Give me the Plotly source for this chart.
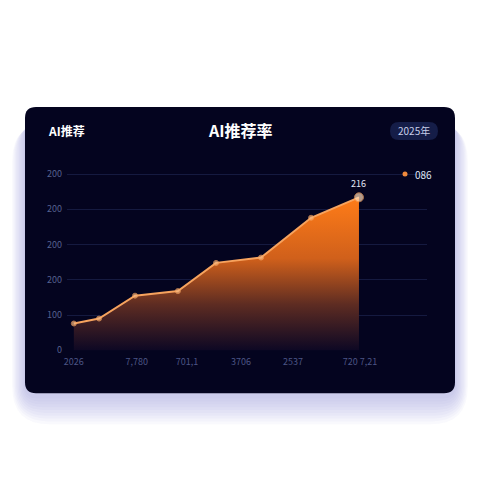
import plotly.graph_objects as go

# chart data
x_pos = [1.9, 8.9, 18.9, 30.8, 41.4, 53.9, 67.8, 81.1]
rates = [76, 90, 155, 168, 248, 263, 376, 434]
x_tick_vals = [1.9, 19.4, 33.3, 48.3, 62.8, 81.4]
x_tick_text = ["2026", "7,780", "701,1", "3706", "2537", "720 7,21"]
y_tick_vals = [0, 100, 200, 300, 400, 500]
y_tick_text = ["0", "100", "200", "200", "200", "200"]
series_name = "086"
peak_label = "216"
title_text = "AI推荐率"
corner_text = "AI推荐"
year_text = "2025年"

W, H = 480, 480
Y_MIN, Y_MAX = -2, 503
SCALE = 0.352  # px per unit on y
PL, PR = 67, 427
PB = 350 - Y_MIN * SCALE
PT = 350 - Y_MAX * SCALE

FONT = "Noto Sans CJK SC, Noto Sans, sans-serif"


def px_x(v):
    return (v - PL) / (PR - PL)


def px_y(v):
    return (PB - v) / (PB - PT)


def round_rect(x0, y0, x1, y1, r):
    # rounded rectangle path in paper units from pixel box
    X = lambda v: f"{px_x(v):.5f}"
    Y = lambda v: f"{px_y(v):.5f}"
    return (f"M {X(x0 + r)},{Y(y0)} L {X(x1 - r)},{Y(y0)} Q {X(x1)},{Y(y0)} {X(x1)},{Y(y0 + r)} "
            f"L {X(x1)},{Y(y1 - r)} Q {X(x1)},{Y(y1)} {X(x1 - r)},{Y(y1)} "
            f"L {X(x0 + r)},{Y(y1)} Q {X(x0)},{Y(y1)} {X(x0)},{Y(y1 - r)} "
            f"L {X(x0)},{Y(y0 + r)} Q {X(x0)},{Y(y0)} {X(x0 + r)},{Y(y0)} Z")


shapes = []
# soft bluish shadow, mostly under the card
for i in range(10):
    g = 2 + i * 2.6
    shapes.append(dict(type="path", xref="paper", yref="paper", layer="below",
                       path=round_rect(25 - g * 0.5, 107 + 16, 455 + g * 0.5, 393 + 3 + g * 1.1, 12 + g),
                       fillcolor="rgba(130,145,210,0.05)", line=dict(width=0)))
# card
shapes.append(dict(type="path", xref="paper", yref="paper", layer="below",
                   path=round_rect(25, 107, 455, 393, 11),
                   fillcolor="#04041f", line=dict(width=0)))
# year pill
shapes.append(dict(type="path", xref="paper", yref="paper", layer="below",
                   path=round_rect(390, 122, 438, 140, 9),
                   fillcolor="#151d48", line=dict(width=0)))
# legend dot
shapes.append(dict(type="circle", xref="paper", yref="paper",
                   x0=px_x(402.5), x1=px_x(407.5), y0=px_y(176.5), y1=px_y(171.5),
                   fillcolor="#f08a3c", line=dict(width=0)))

fig = go.Figure()

fig.add_trace(go.Scatter(
    x=x_pos, y=rates,
    mode="lines+markers",
    fill="tozeroy",
    fillgradient=dict(type="vertical", start=0, stop=rates[-1],
                      colorscale=[[0, "rgba(14,8,36,0.95)"], [0.3, "#5e2c22"],
                                  [0.6, "#d0601b"], [1, "#ff7c18"]]),
    line=dict(color="#f7a35e", width=2),
    marker=dict(size=[5] * (len(rates) - 1) + [9],
                color=["#f8b77f"] * (len(rates) - 1) + ["#ffdcb8"]),
    name=series_name,
    showlegend=False,
    hoverinfo="skip",
))

center = dict(xref="paper", yref="paper", xanchor="center", yanchor="middle", showarrow=False)

fig.update_layout(
    width=W, height=H,
    margin=dict(l=PL, r=W - PR, t=PT, b=H - PB, pad=0),
    paper_bgcolor="white",
    plot_bgcolor="rgba(0,0,0,0)",
    font=dict(family=FONT, color="#56608f", size=9),
    shapes=shapes,
    showlegend=False,
    xaxis=dict(range=[0, 100], showgrid=False, zeroline=False, showline=False,
               tickvals=x_tick_vals, ticktext=x_tick_text, ticks="", ticklabelstandoff=4,
               tickfont=dict(color="#4c5585", size=9)),
    yaxis=dict(range=[Y_MIN, Y_MAX], gridcolor="#151a40", gridwidth=1, zeroline=False,
               showline=False, tickvals=y_tick_vals, ticktext=y_tick_text, ticks="",
               ticklabelstandoff=4, tickfont=dict(color="#56608f", size=9)),
    annotations=[
        dict(center, x=px_x(240), y=px_y(130), text=f"<b>{title_text}</b>",
             font=dict(size=16, color="white", family=FONT)),
        dict(center, x=px_x(46), y=px_y(131), xanchor="left", text=f"<b>{corner_text}</b>",
             font=dict(size=12, color="white", family=FONT)),
        dict(center, x=px_x(414), y=px_y(131), text=year_text,
             font=dict(size=10, color="#c9cfea", family=FONT)),
        dict(center, x=px_x(413), y=px_y(174), xanchor="left", text=series_name,
             font=dict(size=10, color="#dfe3f5", family=FONT)),
        dict(x=x_pos[-1], y=rates[-1], text=peak_label, showarrow=False, yshift=14,
             font=dict(size=9, color="#e4e7f5", family=FONT)),
    ],
)

fig.write_html("out.html", config={"displayModeBar": False},
               post_script="document.body.style.margin='0';")
